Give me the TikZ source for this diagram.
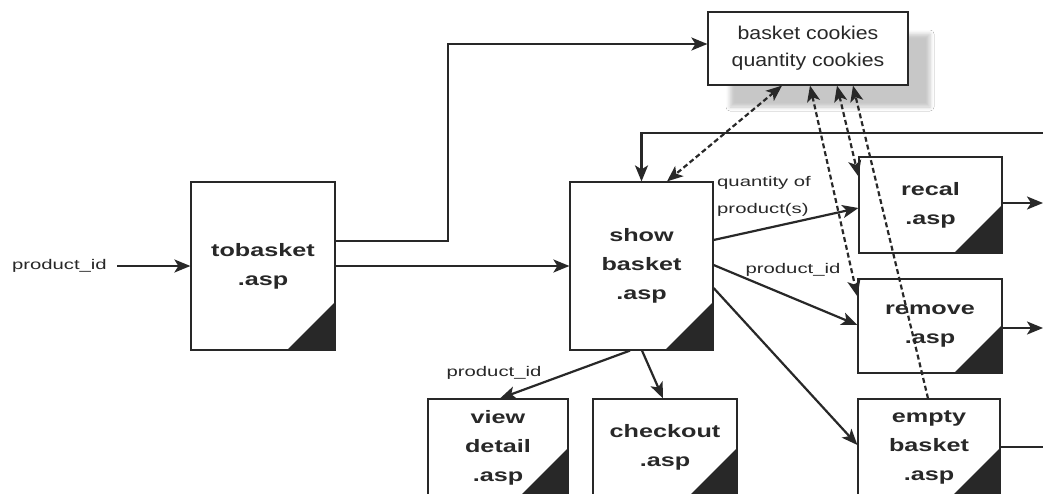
\documentclass[tikz,border=0pt]{standalone}
\usepackage{fontspec}
\setmainfont{Liberation Sans}
\newfontfamily\boxfont[FakeStretch=1.4]{Liberation Sans}
\newfontfamily\lblfont[FakeStretch=1.45]{Liberation Sans}
\newfontfamily\ckfont[FakeStretch=1.15]{Liberation Sans}
\usetikzlibrary{arrows.meta,shadows.blur}
\definecolor{ink}{RGB}{40,40,40}
\tikzset{
  tip/.tip={Stealth[length=16pt,width=13pt,inset=4pt]},
  page/.style={draw=ink, line width=1.2pt, fill=white, inner sep=0pt, align=center,
    font=\boxfont\bfseries\fontsize{18}{29}\selectfont, text=ink,
    path picture={\fill[ink] (path picture bounding box.south east) -- ++(-48pt,0pt) -- ++(48pt,48pt) -- cycle;}},
  conn/.style={draw=ink, line width=2.2pt, -tip},
  plain/.style={draw=ink, line width=2.2pt},
  dconn/.style={draw=ink, line width=2.2pt, dash pattern=on 5pt off 3pt},
  bi/.style={tip-tip},
  lbl/.style={font=\lblfont\fontsize{14}{27}\selectfont, text=ink, inner sep=0pt},
}
\begin{document}
\begin{tikzpicture}[x=1pt,y=-1pt]
\useasboundingbox (0,0) rectangle (1043,493);
\fill[white] (0,0) rectangle (1043,493);
\clip (0,0) rectangle (1043,493);

% nodes
\node[page, minimum width=144pt, minimum height=168pt] (tb) at (263,266) {tobasket\\.asp};
\node[page, minimum width=143pt, minimum height=168pt] (sb) at (641.5,266) {show\\basket\\.asp};
\node[page, minimum width=143pt, minimum height=96pt] (rc) at (930.5,205) {recal\\.asp};
\node[page, minimum width=144pt, minimum height=94pt] (rm) at (930,326) {remove\\.asp};
\node[page, minimum width=142pt, minimum height=97pt] (eb) at (929,447.5) {empty\\basket\\.asp};
\node[page, minimum width=140pt, minimum height=97pt] (vd) at (498,447.5) {view\\detail\\.asp};
\node[page, minimum width=144pt, minimum height=97pt] (co) at (665,447.5) {checkout\\.asp};
\node[draw=ink, line width=1.2pt, fill=white, minimum width=200pt, minimum height=73pt, align=center,
  font=\ckfont\fontsize{18.5}{27}\selectfont, text=ink,
  blur shadow={shadow xshift=22pt, shadow yshift=-22pt, shadow blur steps=5, shadow opacity=22, shadow blur radius=4pt}]
  (ck) at (808,48.5) {basket cookies\\quantity cookies};

% free ends
\coordinate (pin) at (117,266);
\coordinate (fb) at (1043,133);
\coordinate (rcout) at (1043,203);
\coordinate (rmout) at (1043,328);
\coordinate (ebout) at (1043,447);

% labels
\node[lbl, anchor=east] (lpid) at (107,266) {product\_id};
\node[lbl, anchor=west, align=left] (lqty) at (717,196.5) {quantity of\\product(s)};
\node[lbl] (lpid2) at (793,270) {product\_id};
\node[lbl] (lpid3) at (494,373) {product\_id};

% connectors
\draw[conn] (pin) -- (tb.west);
\draw[conn] ([yshift=25pt]tb.east) -- ++(112,0) |- ([yshift=4.5pt]ck.west);
\draw[conn] (tb.east) -- (sb.west);
\draw[conn] (fb) -| (sb.north);
\draw[conn] ([yshift=26pt]sb.east) -- ([yshift=-3pt]rc.west);
\draw[conn] ([yshift=1pt]sb.east) -- ([yshift=1pt]rm.west);
\draw[conn] ([yshift=-22pt]sb.east) -- ([yshift=2.5pt]eb.west);
\draw[conn] ([xshift=-11.5pt]sb.south) -- ([xshift=2pt]vd.north);
\draw[conn] ([xshift=0.5pt]sb.south) -- ([xshift=-2pt]co.north);
\draw[conn] ([yshift=2pt]rc.east) -- (rcout);
\draw[conn] ([yshift=-2pt]rm.east) -- (rmout);
\draw[plain] ([yshift=0.5pt]eb.east) -- (ebout);

% dashed cookie links
\draw[dconn, bi] ([xshift=-26pt]ck.south) -- ([xshift=25.5pt]sb.north);
\draw[dconn, bi] ([xshift=2pt]ck.south) -- ([yshift=-18pt]rm.north west);
\draw[dconn, bi] ([xshift=29pt]ck.south) -- ([yshift=-20pt]rc.north west);
\draw[dconn, -tip] ([xshift=-1pt]eb.north) -- ([xshift=45pt]ck.south);
\end{tikzpicture}
\end{document}
